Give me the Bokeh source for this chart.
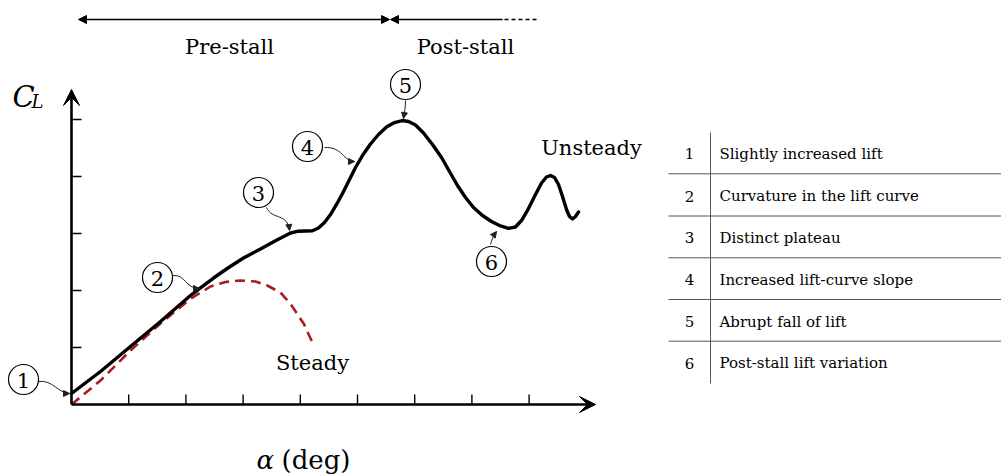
from bokeh.plotting import figure
from bokeh.models import Range1d, Arrow, NormalHead, VeeHead
from bokeh.core.properties import value
from bokeh.embed import file_html
from bokeh.resources import INLINE

# Lift curves, in tick units of angle of attack (alpha) and lift coefficient (C_L)
alpha_unsteady = [0.0, 0.507, 1.031, 1.556, 2.080, 2.255, 2.483, 2.722, 3.007, 3.304,
                  3.566, 3.829, 3.951, 4.091, 4.213, 4.318, 4.423, 4.528, 4.633, 4.738,
                  4.843, 4.965, 5.087, 5.227, 5.367, 5.507, 5.647, 5.781, 5.892, 6.014,
                  6.154, 6.311, 6.469, 6.608, 6.748, 6.888, 7.028, 7.185, 7.343, 7.500,
                  7.640, 7.762, 7.867, 7.972, 8.094, 8.217, 8.304, 8.374, 8.444, 8.514,
                  8.584, 8.654, 8.706, 8.759, 8.811, 8.864]
cl_unsteady = [0.193, 0.579, 1.018, 1.456, 1.912, 2.047, 2.219, 2.386, 2.570, 2.728,
               2.872, 3.009, 3.039, 3.044, 3.047, 3.096, 3.193, 3.333, 3.509, 3.702,
               3.912, 4.158, 4.368, 4.570, 4.737, 4.868, 4.947, 4.982, 4.965, 4.904,
               4.763, 4.561, 4.333, 4.088, 3.842, 3.632, 3.456, 3.316, 3.211, 3.132,
               3.091, 3.114, 3.228, 3.404, 3.649, 3.886, 3.991, 4.018, 3.982, 3.860,
               3.649, 3.421, 3.298, 3.254, 3.298, 3.377]

alpha_steady = [0.0, 0.507, 1.031, 1.556, 2.080, 2.430, 2.692, 2.955, 3.217, 3.421,
                3.654, 3.829, 4.061, 4.236]
cl_steady = [0.0, 0.421, 0.947, 1.421, 1.854, 2.070, 2.149, 2.175, 2.158, 2.088,
             1.965, 1.767, 1.416, 1.035]

x_ticks = [1, 2, 3, 4, 5, 6, 7, 8]
y_ticks = [1, 2, 3, 4, 5]

marker_ids = ["1", "2", "3", "4", "5", "6"]
table_text = ["Slightly increased lift", "Curvature in the lift curve", "Distinct plateau",
              "Increased lift-curve slope", "Abrupt fall of lift", "Post-stall lift variation"]

W, H = 1001, 475
X0, Y0 = 71, 404        # canvas position of the origin
UX, UY = 57.2, 57.0     # canvas pixels per tick unit


def dx(px):
    return (px - X0) / UX


def dy(py):
    return (Y0 - py) / UY


SERIF = value("DejaVu Serif")
INK = "black"

p = figure(width=W, height=H, x_range=Range1d(dx(0), dx(W)), y_range=Range1d(dy(H), dy(0)),
           output_backend="svg", toolbar_location=None, min_border=0,
           x_axis_location=None, y_axis_location=None, outline_line_color=None)
p.grid.visible = False
p.background_fill_color = "white"
p.border_fill_color = "white"

# axes with arrow heads
p.add_layout(Arrow(end=VeeHead(size=16, line_color=INK, fill_color=INK, line_width=1),
                   x_start=0, y_start=0, x_end=dx(595), y_end=0,
                   line_width=2.6, line_color=INK))
p.add_layout(Arrow(end=VeeHead(size=16, line_color=INK, fill_color=INK, line_width=1),
                   x_start=0, y_start=0, x_end=0, y_end=dy(89),
                   line_width=2.6, line_color=INK))
tick_len_y = 10 / UY
tick_len_x = 10 / UX
p.segment(x0=x_ticks, y0=[0] * len(x_ticks), x1=x_ticks, y1=[tick_len_y] * len(x_ticks),
          line_color=INK, line_width=1.4)
p.segment(x0=[0] * len(y_ticks), y0=y_ticks, x1=[tick_len_x] * len(y_ticks), y1=y_ticks,
          line_color=INK, line_width=1.4)

# axis titles
p.text(x=[dx(12)], y=[dy(96)], text=["C"], text_font=SERIF, text_font_style="italic",
       text_font_size=value("29px"), text_baseline="middle", text_align="left", text_color=INK)
p.text(x=[dx(31)], y=[dy(101)], text=["L"], text_font=SERIF, text_font_style="italic",
       text_font_size=value("18px"), text_baseline="middle", text_align="left", text_color=INK)
p.text(x=[dx(256)], y=[dy(459)], text=["\u03b1"], text_font=SERIF, text_font_style="italic",
       text_font_size=value("26px"), text_baseline="middle", text_align="left", text_color=INK)
p.text(x=[dx(281)], y=[dy(459)], text=["(deg)"], text_font=SERIF,
       text_font_size=value("26px"), text_baseline="middle", text_align="left", text_color=INK)

# regime arrows above the plot
top_y = dy(19)
p.add_layout(Arrow(start=NormalHead(size=8, line_color=INK, fill_color=INK, line_width=1),
                   end=NormalHead(size=8, line_color=INK, fill_color=INK, line_width=1),
                   x_start=dx(78), y_start=top_y, x_end=dx(389), y_end=top_y,
                   line_width=1.4, line_color=INK))
p.add_layout(Arrow(end=NormalHead(size=8, line_color=INK, fill_color=INK, line_width=1),
                   x_start=dx(502), y_start=top_y, x_end=dx(390), y_end=top_y,
                   line_width=1.4, line_color=INK))
p.line(x=[dx(504), dx(537)], y=[top_y, top_y], line_color=INK, line_width=1.4, line_dash="4 3")
p.text(x=[dx(229), dx(465)], y=[dy(46), dy(46)], text=["Pre-stall", "Post-stall"],
       text_font=SERIF, text_font_size=value("21px"), text_align="center",
       text_baseline="middle", text_color=INK)

# lift curves
p.line(alpha_steady, cl_steady, line_color="#a81e1e", line_width=2.6, line_dash="10 6")
p.line(alpha_unsteady, cl_unsteady, line_color=INK, line_width=3.4,
       line_join="round", line_cap="round")
p.text(x=[dx(312), dx(591)], y=[dy(362), dy(147)], text=["Steady", "Unsteady"],
       text_font=SERIF, text_font_size=value("21px"), text_align="center",
       text_baseline="middle", text_color=INK)

# leader lines from the numbered markers to the curve
leaders = [
    # start, control 1, control 2, end (canvas pixels)
    ((38, 381), (52, 379), (58, 393), (69, 393)),
    ((172, 275), (186, 274), (184, 288), (199, 288)),
    ((266, 207), (272, 220), (287, 212), (289, 230)),
    ((324, 147), (342, 146), (343, 161), (354, 161)),
    ((405, 100), (405, 106), (404, 112), (403, 118)),
    ((490, 244), (491, 240), (493, 235), (496, 231)),
]
p.bezier(x0=[dx(a[0][0]) for a in leaders], y0=[dy(a[0][1]) for a in leaders],
         cx0=[dx(a[1][0]) for a in leaders], cy0=[dy(a[1][1]) for a in leaders],
         cx1=[dx(a[2][0]) for a in leaders], cy1=[dy(a[2][1]) for a in leaders],
         x1=[dx(a[3][0]) for a in leaders], y1=[dy(a[3][1]) for a in leaders],
         line_color="#222222", line_width=1)
for s, c0, c1, e in leaders:
    bx = e[0] - 0.15 * (e[0] - c1[0])
    by = e[1] - 0.15 * (e[1] - c1[1])
    p.add_layout(Arrow(end=NormalHead(size=6, line_color="#222222", fill_color="#222222",
                                      line_width=1),
                       x_start=dx(bx), y_start=dy(by), x_end=dx(e[0]), y_end=dy(e[1]),
                       line_width=1, line_color="#222222"))

marker_px = [(23, 379), (157, 277), (258, 192), (307, 146), (405, 84), (491, 261)]
mx = [dx(a) for a, b in marker_px]
my = [dy(b) for a, b in marker_px]
p.scatter(x=mx, y=my, marker="circle", size=30, fill_color="white",
          line_color=INK, line_width=1.2)
p.text(x=mx, y=[v - 1 / UY for v in my], text=marker_ids, text_font=SERIF,
       text_font_size=value("21px"), text_align="center", text_baseline="middle",
       text_color=INK)

# legend table of the numbered features
row_px = [153.3, 195.5, 237.3, 279, 321, 362.7]
rule_px = [173.3, 215.5, 257.3, 299, 340.7]
p.segment(x0=[dx(668)] * len(rule_px), y0=[dy(r) for r in rule_px],
          x1=[dx(1001)] * len(rule_px), y1=[dy(r) for r in rule_px],
          line_color="#555555", line_width=1)
p.segment(x0=[dx(710)], y0=[dy(132)], x1=[dx(710)], y1=[dy(383)],
          line_color="#555555", line_width=1)
p.text(x=[dx(689)] * len(row_px), y=[dy(r) for r in row_px], text=marker_ids,
       text_font=SERIF, text_font_size=value("15px"), text_align="center",
       text_baseline="middle", text_color=INK)
p.text(x=[dx(719)] * len(row_px), y=[dy(r) for r in row_px], text=table_text,
       text_font=SERIF, text_font_size=value("15px"), text_align="left",
       text_baseline="middle", text_color=INK)

open("out.html", "w").write(file_html(p, INLINE))
